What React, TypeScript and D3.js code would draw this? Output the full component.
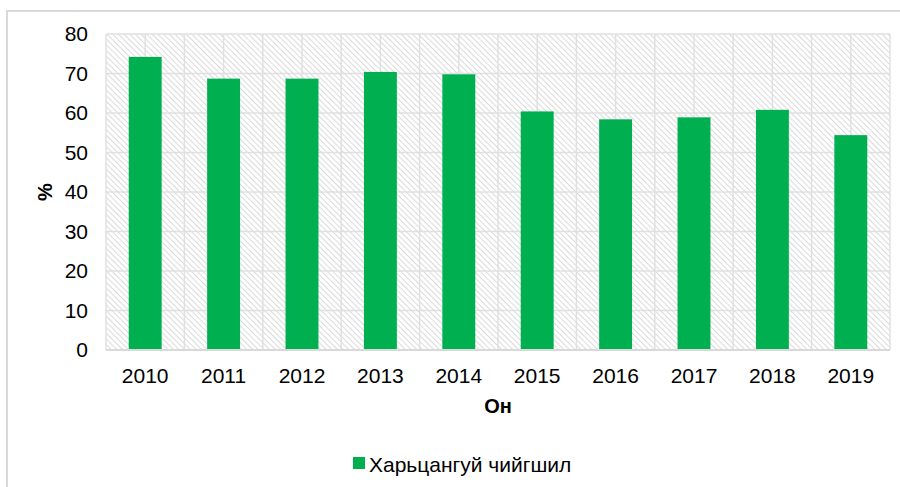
import React from "react";
import * as d3 from "d3";

const years = ["2010", "2011", "2012", "2013", "2014", "2015", "2016", "2017", "2018", "2019"];
const humidity = [74.2, 68.7, 68.7, 70.4, 69.8, 60.4, 58.4, 58.9, 60.8, 54.4];
const yTicks = [0, 10, 20, 30, 40, 50, 60, 70, 80];
const seriesName = "Харьцангуй чийгшил";
const xTitle = "Он";
const yTitle = "%";

const font = "'Liberation Sans', Arial, sans-serif";
const margin = { left: 106, top: 34, right: 10, bottom: 137 };
const W = 900, H = 487;

const App = () => {
  const ref = React.useRef<SVGSVGElement>(null);

  React.useEffect(() => {
    const svg = d3.select(ref.current);
    svg.selectAll("*").remove();
    const innerW = W - margin.left - margin.right;
    const innerH = H - margin.top - margin.bottom;

    const x = d3.scaleBand(years, [margin.left, margin.left + innerW]).paddingInner(0.58).paddingOuter(0.29);
    const xGrid = d3.scaleBand(years, [margin.left, margin.left + innerW]);
    const y = d3.scaleLinear([0, 80], [margin.top + innerH, margin.top]);

    const defs = svg.append("defs");
    const pat = defs.append("pattern")
      .attr("id", "hatch")
      .attr("patternUnits", "userSpaceOnUse")
      .attr("width", 4).attr("height", 4)
      .attr("patternTransform", "rotate(45)");
    pat.append("rect").attr("width", 4).attr("height", 4).attr("fill", "#fff");
    pat.append("line").attr("x1", 0).attr("y1", 0).attr("x2", 4).attr("y2", 0)
      .attr("stroke", "#dadada").attr("stroke-width", 2);

    // outer frame
    svg.append("path")
      .attr("d", `M7,${H} V11 H${W}`)
      .attr("fill", "none").attr("stroke", "#d9d9d9").attr("stroke-width", 2);

    svg.append("rect")
      .attr("x", margin.left).attr("y", margin.top)
      .attr("width", innerW).attr("height", innerH)
      .attr("fill", "url(#hatch)");

    const grid = svg.append("g").attr("stroke", "#e0e0e0").attr("stroke-width", 1.5);
    yTicks.forEach(t => {
      grid.append("line")
        .attr("x1", margin.left).attr("x2", margin.left + innerW)
        .attr("y1", y(t)).attr("y2", y(t));
    });
    const bw = xGrid.bandwidth();
    years.forEach(yr => {
      [0, 0.5].forEach(f => {
        const gx = xGrid(yr)! + bw * f;
        grid.append("line").attr("x1", gx).attr("x2", gx).attr("y1", margin.top).attr("y2", margin.top + innerH);
      });
    });
    grid.append("line").attr("x1", margin.left + innerW).attr("x2", margin.left + innerW)
      .attr("y1", margin.top).attr("y2", margin.top + innerH);

    svg.append("g").selectAll("rect").data(humidity).join("rect")
      .attr("x", (_, i) => x(years[i])!)
      .attr("y", d => y(d))
      .attr("width", x.bandwidth())
      .attr("height", d => y(0) - y(d))
      .attr("fill", "#00b050");

    svg.append("line")
      .attr("x1", margin.left).attr("x2", margin.left + innerW)
      .attr("y1", y(0)).attr("y2", y(0))
      .attr("stroke", "#d9d9d9").attr("stroke-width", 2);

    svg.append("g").selectAll("text").data(yTicks).join("text")
      .attr("x", 88).attr("y", d => y(d)).attr("dy", "0.35em")
      .attr("text-anchor", "end")
      .attr("font-family", font).attr("font-size", 21).attr("fill", "#000")
      .text(d => d);

    svg.append("g").selectAll("text").data(years).join("text")
      .attr("x", d => xGrid(d)! + bw / 2).attr("y", 383)
      .attr("text-anchor", "middle")
      .attr("font-family", font).attr("font-size", 21).attr("fill", "#000")
      .text(d => d);

    svg.append("text")
      .attr("x", margin.left + innerW / 2).attr("y", 413)
      .attr("text-anchor", "middle")
      .attr("font-family", font).attr("font-size", 20).attr("font-weight", "bold")
      .text(xTitle);

    svg.append("text")
      .attr("transform", `translate(52,${margin.top + innerH / 2}) rotate(-90)`)
      .attr("text-anchor", "middle")
      .attr("font-family", font).attr("font-size", 20).attr("font-weight", "bold")
      .text(yTitle);

    svg.append("rect").attr("x", 353).attr("y", 457).attr("width", 12).attr("height", 12).attr("fill", "#00b050");
    svg.append("text")
      .attr("x", 369).attr("y", 472)
      .attr("font-family", font).attr("font-size", 21).attr("fill", "#000")
      .text(seriesName);
  }, []);

  return <svg ref={ref} width={W} height={H} style={{ position: "absolute", left: 0, top: 0 }} />;
};

export default App;
